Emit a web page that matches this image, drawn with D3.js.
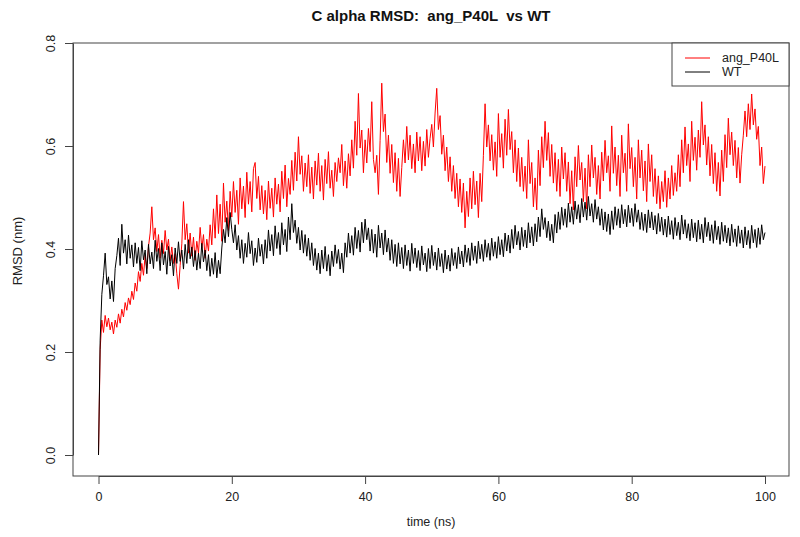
<!DOCTYPE html>
<html><head><meta charset="utf-8">
<script src="https://cdn.jsdelivr.net/npm/d3@7"></script>
<style>body{margin:0;background:#fff}svg{display:block}text{font-family:"Liberation Sans",Arial,sans-serif}</style>
</head><body><div id="chart"></div>
<script>
const title = "C alpha RMSD:  ang_P40L  vs WT";
const xLabel = "time (ns)";
const yLabel = "RMSD (nm)";
const seriesNames = ["ang_P40L", "WT"];
const seriesColors = ["#ff0000", "#000000"];
const xTicks = [0, 20, 40, 60, 80, 100];
const yTicks = [0.0, 0.2, 0.4, 0.6, 0.8];
const timeStep = 0.25; // ns between samples

const red = [
0,.205,.262,.238,.271,.249,.266,.243,.258,.235,.262,.248,.274,.256,.283,.268,.296,.281,.305,.292,
.318,.302,.334,.318,.356,.337,.372,.349,.388,.362,.405,.431,.482,.418,.441,.395,.428,.382,.417,.391,
.436,.398,.419,.377,.404,.372,.391,.352,.322,.368,.41,.492,.418,.449,.392,.431,.386,.423,.378,.415,
.392,.442,.401,.428,.382,.419,.396,.447,.408,.478,.421,.505,.43,.487,.415,.528,.452,.493,.436,.512,
.462,.531,.471,.514,.448,.538,.478,.522,.461,.549,.487,.531,.472,.556,.568,.498,.541,.476,.523,.468,
.514,.457,.532,.479,.518,.462,.538,.487,.526,.472,.551,.498,.563,.482,.537,.506,.572,.514,.588,.532,
.618,.545,.581,.512,.567,.521,.583,.508,.559,.497,.571,.524,.586,.512,.562,.495,.574,.527,.589,.518,
.553,.502,.568,.531,.577,.548,.603,.523,.571,.518,.585,.542,.612,.557,.648,.582,.702,.596,.631,.548,
.612,.567,.634,.589,.686,.574,.548,.582,.506,.611,.722,.628,.662,.568,.621,.547,.603,.529,.587,.512,
.576,.502,.558,.612,.567,.638,.573,.621,.556,.604,.548,.627,.571,.618,.552,.609,.561,.632,.578,.615,
.642,.598,.664,.712,.632,.659,.584,.621,.552,.598,.531,.579,.512,.562,.498,.547,.482,.536,.471,.528,
.441,.512,.463,.538,.478,.551,.486,.532,.461,.547,.492,.582,.682,.598,.641,.571,.622,.553,.608,.541,
.663,.578,.624,.557,.652,.582,.671,.593,.628,.548,.612,.531,.596,.521,.578,.512,.561,.498,.612,.527,
.568,.482,.538,.476,.592,.523,.618,.558,.648,.572,.626,.541,.603,.528,.587,.512,.574,.502,.598,.536,
.587,.512,.569,.488,.552,.476,.579,.521,.601,.534,.568,.492,.557,.478,.583,.521,.602,.538,.578,.506,
.562,.497,.588,.532,.611,.548,.581,.512,.639,.547,.598,.523,.582,.502,.621,.548,.586,.512,.643,.556,
.597,.521,.578,.497,.612,.538,.592,.513,.571,.492,.604,.531,.583,.502,.556,.488,.542,.478,.531,.492,
.552,.481,.538,.497,.562,.504,.548,.512,.583,.521,.612,.548,.637,.562,.604,.531,.648,.572,.617,.553,
.631,.578,.686,.602,.641,.563,.618,.542,.603,.527,.587,.512,.568,.503,.592,.531,.622,.558,.654,.583,
.627,.562,.611,.538,.597,.528,.583,.621,.668,.618,.682,.632,.701,.641,.672,.613,.638,.562,.598,.527,
.561];

const wt = [
0,.223,.312,.348,.392,.331,.346,.303,.338,.298,.362,.387,.421,.368,.448,.392,.418,.371,.427,.382,
.408,.365,.412,.372,.403,.358,.416,.379,.398,.352,.409,.371,.394,.362,.417,.376,.401,.358,.412,.369,
.395,.351,.405,.367,.389,.348,.402,.372,.414,.376,.398,.361,.409,.372,.418,.381,.404,.366,.397,.359,
.392,.362,.411,.375,.398,.358,.389,.347,.382,.351,.393,.344,.378,.352,.402,.438,.412,.461,.424,.471,
.438,.412,.447,.398,.426,.382,.418,.372,.411,.384,.432,.391,.416,.368,.402,.374,.421,.386,.409,.371,
.418,.382,.437,.396,.428,.387,.445,.401,.432,.389,.451,.408,.438,.395,.462,.418,.488,.432,.456,.411,
.442,.398,.436,.392,.428,.386,.421,.378,.412,.368,.401,.359,.392,.352,.398,.362,.405,.357,.389,.348,
.396,.366,.408,.372,.399,.361,.392,.354,.412,.384,.431,.392,.426,.388,.442,.401,.436,.394,.452,.412,
.458,.418,.441,.396,.438,.392,.429,.384,.446,.402,.431,.389,.437,.394,.421,.378,.418,.372,.409,.366,
.412,.371,.403,.362,.408,.368,.398,.357,.411,.372,.402,.364,.397,.358,.406,.369,.392,.356,.401,.362,
.407,.368,.394,.359,.402,.366,.391,.354,.398,.361,.388,.357,.401,.368,.393,.362,.404,.371,.396,.365,
.408,.374,.402,.368,.412,.378,.406,.372,.415,.381,.409,.376,.418,.384,.411,.378,.421,.386,.414,.382,
.424,.389,.418,.385,.431,.396,.427,.392,.438,.401,.446,.408,.434,.398,.442,.405,.437,.402,.451,.412,
.443,.406,.449,.414,.462,.424,.478,.438,.461,.422,.454,.416,.448,.412,.467,.431,.472,.438,.481,.446,
.478,.442,.489,.452,.482,.448,.493,.458,.486,.451,.498,.462,.491,.456,.502,.464,.488,.452,.496,.458,
.482,.446,.478,.437,.472,.434,.468,.428,.474,.438,.482,.446,.478,.441,.486,.449,.477,.443,.485,.451,
.479,.444,.488,.452,.476,.438,.471,.436,.468,.432,.476,.441,.472,.437,.465,.429,.469,.434,.462,.427,
.458,.423,.464,.428,.455,.419,.461,.426,.452,.418,.466,.429,.457,.421,.449,.416,.458,.422,.451,.414,
.456,.419,.448,.412,.461,.424,.452,.416,.447,.411,.455,.418,.444,.409,.452,.415,.446,.412,.441,.406,
.448,.413,.439,.405,.445,.411,.437,.402,.443,.408,.436,.401,.446,.412,.438,.403,.441,.409,.447,.418,
.432];

const W = 800, H = 537;
const box = {left: 73, right: 789, top: 43, bottom: 476};
const svg = d3.select("#chart").append("svg").attr("width", W).attr("height", H);
svg.append("rect").attr("width", W).attr("height", H).attr("fill", "#fff");

const x = d3.scaleLinear().domain([0, 100]).range([98.5, 765]);
const y = d3.scaleLinear().domain([0, 0.8]).range([455, 43]);

const line = d3.line().x((d, i) => x(i * timeStep)).y(d => y(d));

const plot = svg.append("g");
[red, wt].forEach((s, k) => {
  plot.append("path").datum(s).attr("d", line)
    .attr("fill", "none").attr("stroke", seriesColors[k]).attr("stroke-width", 1)
    .attr("stroke-linejoin", "round");
});

const axisColor = "#444";
svg.append("rect").attr("x", box.left).attr("y", box.top)
  .attr("width", box.right - box.left).attr("height", box.bottom - box.top)
  .attr("fill", "none").attr("stroke", axisColor).attr("stroke-width", 1);

// x axis (attached to box bottom)
const xAxis = svg.append("g").attr("transform", `translate(0,${box.bottom})`)
  .call(d3.axisBottom(x).tickValues(xTicks).tickSize(8).tickPadding(8).tickSizeOuter(0).tickFormat(d3.format("d")));
xAxis.select(".domain").attr("stroke", axisColor);
xAxis.selectAll(".tick line").attr("stroke", axisColor);
xAxis.selectAll("text").attr("font-size", 12.5).attr("fill", "#222").attr("font-family", "Liberation Sans, Arial, sans-serif");

// y axis (attached to box left)
const yAxis = svg.append("g").attr("transform", `translate(${box.left},0)`)
  .call(d3.axisLeft(y).tickValues(yTicks).tickSize(8).tickSizeOuter(0).tickFormat(d3.format(".1f")));
yAxis.select(".domain").attr("stroke", axisColor);
yAxis.selectAll(".tick line").attr("stroke", axisColor);
yAxis.selectAll("text").attr("font-size", 12.5).attr("fill", "#222")
  .attr("font-family", "Liberation Sans, Arial, sans-serif")
  .attr("text-anchor", "middle").attr("dy", null)
  .attr("x", 0).attr("y", 0).attr("dominant-baseline", "middle")
  .attr("transform", "translate(-21,0) rotate(-90)");

// title and labels
svg.append("text").attr("x", 431).attr("y", 21).attr("text-anchor", "middle")
  .attr("xml:space", "preserve").style("white-space", "pre")
  .attr("font-size", 15).attr("font-weight", "bold").attr("fill", "#111").text(title);
svg.append("text").attr("x", 431).attr("y", 526).attr("text-anchor", "middle")
  .attr("font-size", 12.5).attr("fill", "#222").text(xLabel);
svg.append("text").attr("transform", "translate(22,251) rotate(-90)").attr("text-anchor", "middle")
  .attr("font-size", 13).attr("fill", "#222").text(yLabel);

// legend
const lg = svg.append("g");
lg.append("rect").attr("x", 672).attr("y", 43).attr("width", 117).attr("height", 43)
  .attr("fill", "#fff").attr("stroke", axisColor);
seriesNames.forEach((n, i) => {
  const yy = 58 + i * 14;
  lg.append("line").attr("x1", 685).attr("x2", 710).attr("y1", yy).attr("y2", yy)
    .attr("stroke", seriesColors[i]).attr("stroke-width", 1);
  lg.append("text").attr("x", 722).attr("y", yy).attr("dy", "0.35em")
    .attr("font-size", 12.5).attr("fill", "#222").text(n);
});
</script></body></html>
